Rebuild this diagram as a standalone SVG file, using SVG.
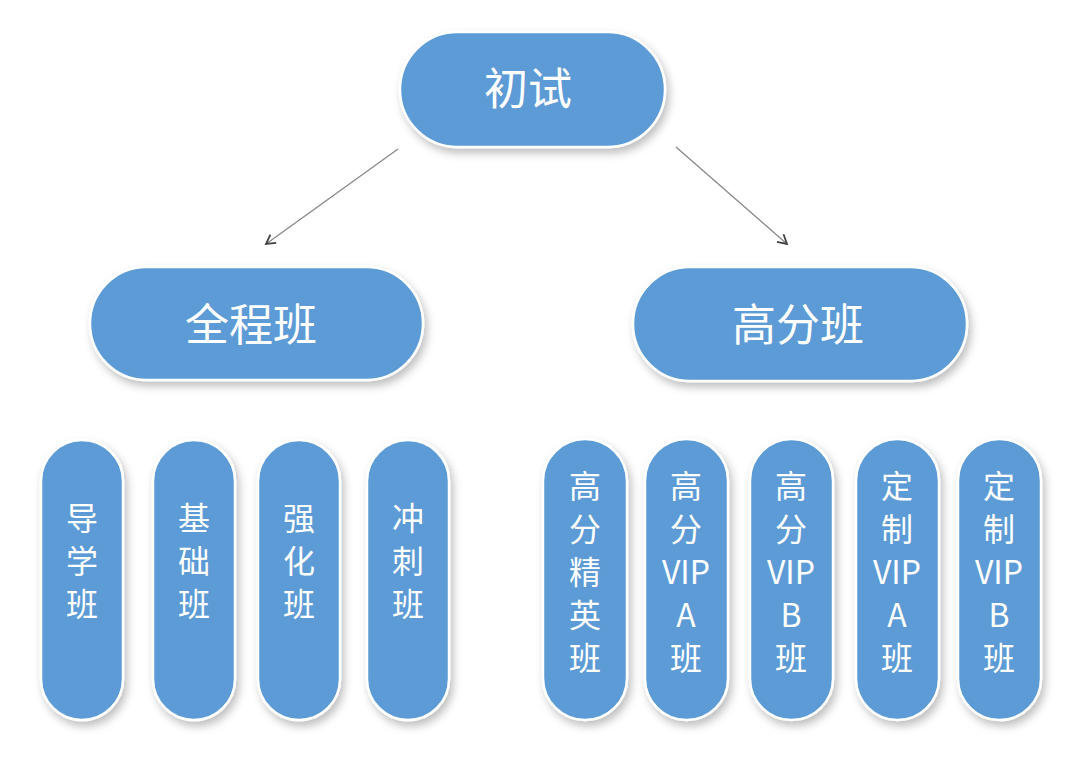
<svg xmlns="http://www.w3.org/2000/svg" width="1080" height="779" viewBox="0 0 1080 779">
<style>
.n{fill:#5b9bd5;stroke:#ffffff;stroke-width:2.5;filter:url(#sh)}
.t{fill:#ffffff;font-family:"Noto Sans CJK SC","Noto Sans",sans-serif;text-anchor:middle}
.big{font-size:44px}
.v{font-size:32px}
.c{stroke:#888888;stroke-width:1.3;fill:none;marker-end:url(#ah)}
</style>
<defs>
<filter id="sh" x="-20%" y="-20%" width="140%" height="140%">
<feDropShadow dx="3" dy="5" stdDeviation="4" flood-color="#000000" flood-opacity="0.25"/>
</filter>
<marker id="ah" viewBox="0 0 12 12" refX="10" refY="6" markerWidth="12" markerHeight="12" markerUnits="userSpaceOnUse" orient="auto">
<path d="M1,1 L10,6 L1,11" fill="none" stroke="#444444" stroke-width="1.8"/>
</marker>
</defs>
<rect width="1080" height="779" fill="#ffffff"/>
<g id="connectors">
<line class="c" x1="398" y1="149" x2="266" y2="244"/>
<line class="c" x1="676" y1="147" x2="787" y2="244"/>
</g>
<g id="chushi"><rect class="n" x="400" y="32" width="265" height="115" rx="57.5"/><text class="t big" x="528" y="105">初试</text></g>
<g id="quancheng"><rect class="n" x="90" y="267" width="333" height="113" rx="56.5"/><text class="t big" x="251" y="341">全程班</text></g>
<g id="gaofen"><rect class="n" x="633" y="267" width="334" height="114" rx="57"/><text class="t big" x="798" y="341">高分班</text></g>
<g id="daoxue"><rect class="n" x="41" y="440" width="82" height="280" rx="41"/><text class="t v"><tspan x="82" y="530">导</tspan><tspan x="82" y="573">学</tspan><tspan x="82" y="616">班</tspan></text></g>
<g id="jichu"><rect class="n" x="153" y="440" width="82" height="280" rx="41"/><text class="t v"><tspan x="194" y="530">基</tspan><tspan x="194" y="573">础</tspan><tspan x="194" y="616">班</tspan></text></g>
<g id="qianghua"><rect class="n" x="258" y="440" width="82" height="280" rx="41"/><text class="t v"><tspan x="299" y="530">强</tspan><tspan x="299" y="573">化</tspan><tspan x="299" y="616">班</tspan></text></g>
<g id="chongci"><rect class="n" x="367" y="440" width="82" height="280" rx="41"/><text class="t v"><tspan x="408" y="530">冲</tspan><tspan x="408" y="573">刺</tspan><tspan x="408" y="616">班</tspan></text></g>
<g id="jingying"><rect class="n" x="543" y="439" width="84" height="281" rx="42"/><text class="t v"><tspan x="585" y="498">高</tspan><tspan x="585" y="541">分</tspan><tspan x="585" y="584">精</tspan><tspan x="585" y="627">英</tspan><tspan x="585" y="670">班</tspan></text></g>
<g id="vipa"><rect class="n" x="645" y="439" width="83" height="281" rx="41.5"/><text class="t v"><tspan x="686" y="498">高</tspan><tspan x="686" y="541">分</tspan><tspan x="686" y="584">VIP</tspan><tspan x="686" y="627">A</tspan><tspan x="686" y="670">班</tspan></text></g>
<g id="vipb"><rect class="n" x="750" y="439" width="83" height="281" rx="41.5"/><text class="t v"><tspan x="791" y="498">高</tspan><tspan x="791" y="541">分</tspan><tspan x="791" y="584">VIP</tspan><tspan x="791" y="627">B</tspan><tspan x="791" y="670">班</tspan></text></g>
<g id="dzvipa"><rect class="n" x="856" y="439" width="83" height="281" rx="41.5"/><text class="t v"><tspan x="897" y="498">定</tspan><tspan x="897" y="541">制</tspan><tspan x="897" y="584">VIP</tspan><tspan x="897" y="627">A</tspan><tspan x="897" y="670">班</tspan></text></g>
<g id="dzvipb"><rect class="n" x="958" y="439" width="83" height="281" rx="41.5"/><text class="t v"><tspan x="999" y="498">定</tspan><tspan x="999" y="541">制</tspan><tspan x="999" y="584">VIP</tspan><tspan x="999" y="627">B</tspan><tspan x="999" y="670">班</tspan></text></g>
</svg>
